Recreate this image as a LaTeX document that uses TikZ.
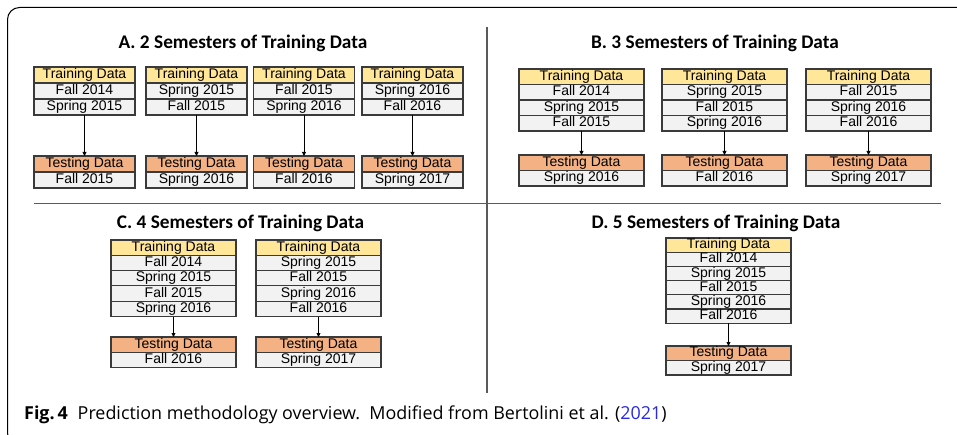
\documentclass[tikz,border=0pt]{standalone}
\usepackage{fontspec}
\setmainfont{Open Sans}
\newfontfamily\arialfont{Liberation Sans}
\newfontfamily\calibrifont{Carlito}
\usepackage{tikz}
\usetikzlibrary{positioning,arrows.meta}
\definecolor{trainyellow}{HTML}{FFE699}
\definecolor{testorange}{HTML}{F4B183}
\definecolor{cellgray}{HTML}{F2F2F2}
\definecolor{boxline}{HTML}{3A3A3A}
\definecolor{divgray}{HTML}{5A5A5A}
\definecolor{citeblue}{HTML}{2A2AE0}

\begin{document}
\begin{tikzpicture}[x=1pt,y=-1pt]
\tikzstyle{cell}=[draw=boxline,fill=cellgray,line width=1.1pt,minimum width=125pt,inner sep=0pt,outer sep=0pt,text height=9.8pt,text depth=2.6pt,font=\arialfont\fontsize{14}{15}\selectfont];
\tikzstyle{train}=[cell,fill=trainyellow];
\tikzstyle{test}=[cell,fill=testorange];
\tikzstyle{flow}=[-{Triangle[length=4pt,width=4pt]},line width=0.8pt];
\tikzstyle{panel}=[font=\calibrifont\fontsize{19.3}{21}\selectfont\bfseries];
\tikzstyle{divider}=[draw=divgray,line width=1.1pt];
\useasboundingbox (0,0) rectangle (957,435);
\clip (0,0) rectangle (957,435);

% frame and dividers
\draw [line width=1pt,rounded corners=12pt] (980,7.5) -- (7.5,7.5) -- (7.5,445) -- (980,445);
\draw [divider] (487,27) -- (487,393);
\draw [divider] (34,203.5) -- (941,203.5);

% A. 2 semesters
\node [panel] (tA) at (243,43) {A. 2 Semesters of Training Data};
\begin{scope}[every node/.append style={minimum height=16pt}]
\node [train,minimum width=101pt,anchor=north] (a1) at (84.5,67) {Training Data};
\node [cell,minimum width=101pt,below=0pt of a1] (a1r1) {Fall 2014};
\node [cell,minimum width=101pt,below=0pt of a1r1] (a1r2) {Spring 2015};
\node [test,minimum width=101pt,anchor=north] (a1t) at (84.5,156) {Testing Data};
\node [cell,minimum width=101pt,below=0pt of a1t] (a1s) {Fall 2015};
\draw [flow] (a1r2) -- (a1t);

\node [train,minimum width=101pt,anchor=north] (a2) at (196.5,67) {Training Data};
\node [cell,minimum width=101pt,below=0pt of a2] (a2r1) {Spring 2015};
\node [cell,minimum width=101pt,below=0pt of a2r1] (a2r2) {Fall 2015};
\node [test,minimum width=101pt,anchor=north] (a2t) at (196.5,156) {Testing Data};
\node [cell,minimum width=101pt,below=0pt of a2t] (a2s) {Spring 2016};
\draw [flow] (a2r2) -- (a2t);

\node [train,minimum width=101pt,anchor=north] (a3) at (304,67) {Training Data};
\node [cell,minimum width=101pt,below=0pt of a3] (a3r1) {Fall 2015};
\node [cell,minimum width=101pt,below=0pt of a3r1] (a3r2) {Spring 2016};
\node [test,minimum width=101pt,anchor=north] (a3t) at (304,156) {Testing Data};
\node [cell,minimum width=101pt,below=0pt of a3t] (a3s) {Fall 2016};
\draw [flow] (a3r2) -- (a3t);

\node [train,minimum width=101pt,anchor=north] (a4) at (412.5,67) {Training Data};
\node [cell,minimum width=101pt,below=0pt of a4] (a4r1) {Spring 2016};
\node [cell,minimum width=101pt,below=0pt of a4r1] (a4r2) {Fall 2016};
\node [test,minimum width=101pt,anchor=north] (a4t) at (412.5,156) {Testing Data};
\node [cell,minimum width=101pt,below=0pt of a4t] (a4s) {Spring 2017};
\draw [flow] (a4r2) -- (a4t);
\end{scope}

% B. 3 semesters
\node [panel] (tB) at (715,43) {B. 3 Semesters of Training Data};
\begin{scope}[every node/.append style={minimum height=15.5pt}]
\node [train,anchor=north] (b1) at (581.5,69) {Training Data};
\node [cell,below=0pt of b1] (b1r1) {Fall 2014};
\node [cell,below=0pt of b1r1] (b1r2) {Spring 2015};
\node [cell,below=0pt of b1r2] (b1r3) {Fall 2015};
\node [test,anchor=north] (b1t) at (581.5,155) {Testing Data};
\node [cell,below=0pt of b1t] (b1s) {Spring 2016};
\draw [flow] (b1r3) -- (b1t);

\node [train,anchor=north] (b2) at (724.5,69) {Training Data};
\node [cell,below=0pt of b2] (b2r1) {Spring 2015};
\node [cell,below=0pt of b2r1] (b2r2) {Fall 2015};
\node [cell,below=0pt of b2r2] (b2r3) {Spring 2016};
\node [test,anchor=north] (b2t) at (724.5,155) {Testing Data};
\node [cell,below=0pt of b2t] (b2s) {Fall 2016};
\draw [flow] (b2r3) -- (b2t);

\node [train,anchor=north] (b3) at (868.5,69) {Training Data};
\node [cell,below=0pt of b3] (b3r1) {Fall 2015};
\node [cell,below=0pt of b3r1] (b3r2) {Spring 2016};
\node [cell,below=0pt of b3r2] (b3r3) {Fall 2016};
\node [test,anchor=north] (b3t) at (868.5,155) {Testing Data};
\node [cell,below=0pt of b3t] (b3s) {Spring 2017};
\draw [flow] (b3r3) -- (b3t);
\end{scope}

% C. 4 semesters
\node [panel] (tC) at (240.5,223) {C. 4 Semesters of Training Data};
\begin{scope}[every node/.append style={minimum height=15.3pt}]
\node [train,anchor=north] (c1) at (173.5,240) {Training Data};
\node [cell,below=0pt of c1] (c1r1) {Fall 2014};
\node [cell,below=0pt of c1r1] (c1r2) {Spring 2015};
\node [cell,below=0pt of c1r2] (c1r3) {Fall 2015};
\node [cell,below=0pt of c1r3] (c1r4) {Spring 2016};
\node [test,anchor=north] (c1t) at (173.5,337) {Testing Data};
\node [cell,below=0pt of c1t] (c1s) {Fall 2016};
\draw [flow] (c1r4) -- (c1t);

\node [train,anchor=north] (c2) at (318.5,240) {Training Data};
\node [cell,below=0pt of c2] (c2r1) {Spring 2015};
\node [cell,below=0pt of c2r1] (c2r2) {Fall 2015};
\node [cell,below=0pt of c2r2] (c2r3) {Spring 2016};
\node [cell,below=0pt of c2r3] (c2r4) {Fall 2016};
\node [test,anchor=north] (c2t) at (318.5,337) {Testing Data};
\node [cell,below=0pt of c2t] (c2s) {Spring 2017};
\draw [flow] (c2r4) -- (c2t);
\end{scope}

% D. 5 semesters
\node [panel] (tD) at (716,223) {D. 5 Semesters of Training Data};
\begin{scope}[every node/.append style={minimum height=14.2pt}]
\node [train,anchor=north] (d1) at (728.5,238) {Training Data};
\node [cell,below=0pt of d1] (d1r1) {Fall 2014};
\node [cell,below=0pt of d1r1] (d1r2) {Spring 2015};
\node [cell,below=0pt of d1r2] (d1r3) {Fall 2015};
\node [cell,below=0pt of d1r3] (d1r4) {Spring 2016};
\node [cell,below=0pt of d1r4] (d1r5) {Fall 2016};
\node [test,anchor=north] (d1t) at (728.5,346) {Testing Data};
\node [cell,below=0pt of d1t,minimum height=14.8pt] (d1s) {Spring 2017};
\draw [flow] (d1r5) -- (d1t);
\end{scope}

% caption
\node (cap) [anchor=base west,inner sep=0pt,font=\fontsize{17.9}{20}\selectfont] at (24,419) {\textbf{Fig.\,4}\hspace{0.55em}Prediction methodology overview.\ \ Modified from Bertolini et al. (\textcolor{citeblue}{2021})};
\end{tikzpicture}
\end{document}
